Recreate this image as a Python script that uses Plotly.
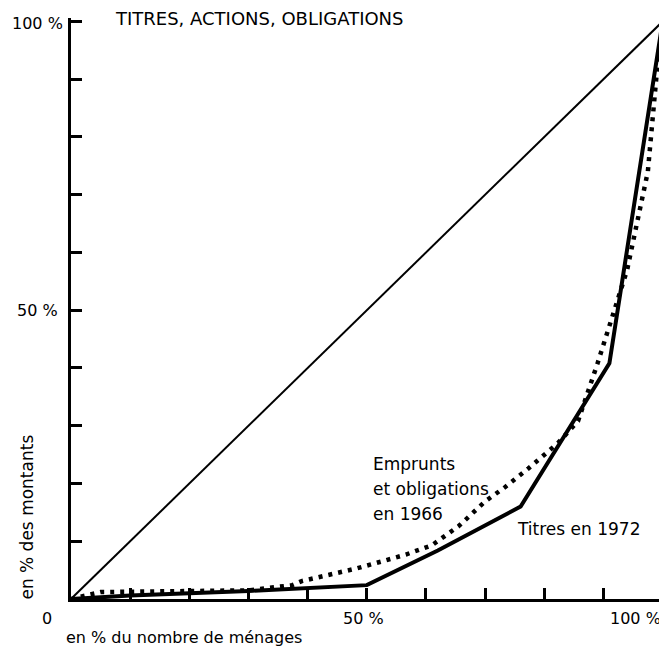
import plotly.graph_objects as go

# Lorenz curves: % of households (x) vs % of amounts held (y)
diag_x = [0, 100]
diag_y = [0, 100]

titres_1972_x = [0, 10, 30, 50, 62, 76, 91, 100]
titres_1972_y = [0, 0.6, 1.4, 2.4, 8.4, 16, 40.8, 100]

emprunts_1966_x = [0, 5, 30, 37.4, 39, 43.6, 48.3, 52.5, 56.6, 61, 65.5, 70, 73.4,
                   77.3, 80.1, 82.3, 85.7, 89, 94, 97.5, 99, 100]
emprunts_1966_y = [0, 1.2, 1.5, 2.4, 3.1, 4.1, 5.3, 6.5, 7.7, 9.3, 12.6, 16.9, 19.4,
                   22.6, 25, 27, 30.8, 40.8, 57, 74, 91, 100]

tick_vals = [10, 20, 30, 40, 50, 60, 70, 80, 90, 100]

FONT = "DejaVu Sans, Verdana, sans-serif"

fig = go.Figure()

fig.add_trace(go.Scatter(x=diag_x, y=diag_y, mode="lines",
                         line=dict(color="black", width=2), hoverinfo="skip"))
fig.add_trace(go.Scatter(x=emprunts_1966_x, y=emprunts_1966_y, mode="lines",
                         line=dict(color="black", width=4.5, dash="4px,6px"),
                         name="Emprunts et obligations en 1966"))
fig.add_trace(go.Scatter(x=titres_1972_x, y=titres_1972_y, mode="lines",
                         line=dict(color="black", width=4), name="Titres en 1972"))

axis_common = dict(
    showgrid=False, zeroline=False, showline=True, linecolor="black", linewidth=3,
    ticks="inside", ticklen=11, tickwidth=3, tickcolor="black",
    tickvals=tick_vals, showticklabels=False,
)

fig.update_xaxes(range=[0, 100.4], **axis_common)
fig.update_yaxes(range=[0, 100.6], **axis_common)

txt = dict(family=FONT, size=16, color="black")
big = dict(family=FONT, size=17, color="black")

annotations = [
    # tick labels
    dict(x=0, y=100, text="100 %", xanchor="right", xshift=-6, yshift=-2, font=txt),
    dict(x=0, y=50, text="50 %", xanchor="right", xshift=-11, font=txt),
    dict(x=0, y=0, text="0", xanchor="center", xshift=-24, yshift=-19, font=txt),
    dict(x=50, y=0, text="50 %", yanchor="top", xshift=-3, yshift=-8, font=txt),
    dict(x=100, y=0, text="100 %", xanchor="right", yanchor="top", yshift=-8, font=txt),
    # axis titles
    dict(x=0, y=0, text="en % du nombre de ménages", xanchor="left", yanchor="bottom",
         xshift=-7, yshift=-50, font=dict(family=FONT, size=16, color="black")),
    dict(x=0, y=14.1, text="en % des montants", textangle=-90, xanchor="center",
         xshift=-44, font=big),
    # title
    dict(x=7.1, y=100.6, text="TITRES, ACTIONS, OBLIGATIONS", xanchor="left",
         yanchor="middle", font=dict(family=FONT, size=18, color="black")),
    # curve labels
    dict(x=50.7, y=23.4, text="Emprunts", xanchor="left", font=big),
    dict(x=50.7, y=19.1, text="et obligations", xanchor="left", font=big),
    dict(x=50.7, y=14.8, text="en 1966", xanchor="left", font=big),
    dict(x=75.1, y=12.2, text="Titres en 1972", xanchor="left", font=big),
]
for a in annotations:
    a.update(xref="x", yref="y", showarrow=False)

# page body adds an 8px margin, so the figure is sized to fit the window
fig.update_layout(
    width=659, height=641,
    margin=dict(l=63, r=2, t=10, b=50),
    plot_bgcolor="white", paper_bgcolor="white",
    showlegend=False,
    annotations=annotations,
)

fig.write_html("out.html")
